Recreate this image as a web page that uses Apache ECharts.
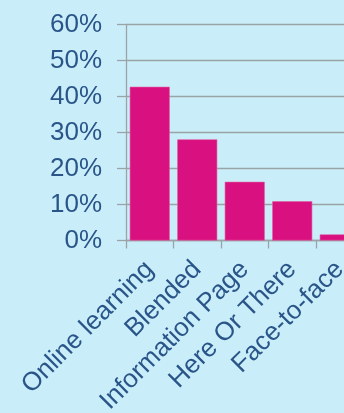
<!DOCTYPE html>
<html>
<head>
<meta charset="utf-8">
<script src="https://cdn.jsdelivr.net/npm/echarts@6/dist/echarts.min.js"></script>
<style>
  html, body { margin: 0; padding: 0; background: #caeef9; }
  #chart { width: 344px; height: 413px; }
</style>
</head>
<body>
<div id="chart"></div>
<script>
// Preferred learning format, share of respondents
const categories = ['Online learning', 'Blended', 'Information Page', 'Here Or There', 'Face-to-face'];
const shares = [42.7, 28.1, 16.3, 10.9, 1.7];
const yTicks = [0, 10, 20, 30, 40, 50, 60];

const textColor = '#2a5589';
const lineColor = '#9aa3a6';
const font = 'Liberation Sans, Arial, sans-serif';

const chart = echarts.init(document.getElementById('chart'), null, { renderer: 'canvas' });
chart.setOption({
  backgroundColor: '#caeef9',
  animation: false,
  grid: {
    left: 126, top: 24.5, width: 237.5, height: 216,
    containLabel: false,
    outerBoundsMode: 'none'
  },
  xAxis: {
    type: 'category',
    data: categories,
    axisLine: { show: true, lineStyle: { color: lineColor, width: 1.3 } },
    axisTick: { show: true, length: 8, alignWithLabel: false, lineStyle: { color: lineColor, width: 1.3 } },
    axisLabel: {
      rotate: 45,
      interval: 0,
      margin: 25,
      color: textColor,
      fontFamily: font,
      fontSize: 26
    }
  },
  yAxis: {
    type: 'value',
    min: yTicks[0],
    max: yTicks[yTicks.length - 1],
    interval: 10,
    axisLine: { show: true, lineStyle: { color: lineColor, width: 1.3 } },
    axisTick: { show: true, length: 9, lineStyle: { color: lineColor, width: 1.3 } },
    splitLine: { show: true, lineStyle: { color: lineColor, width: 1.3 } },
    axisLabel: {
      margin: 24,
      color: textColor,
      fontFamily: font,
      fontSize: 26,
      formatter: v => v + '%'
    }
  },
  series: [{
    type: 'bar',
    data: shares,
    barWidth: 40,
    itemStyle: { color: '#d9107f', borderColor: '#e25aa3', borderWidth: 0.6 }
  }]
});
</script>
</body>
</html>
